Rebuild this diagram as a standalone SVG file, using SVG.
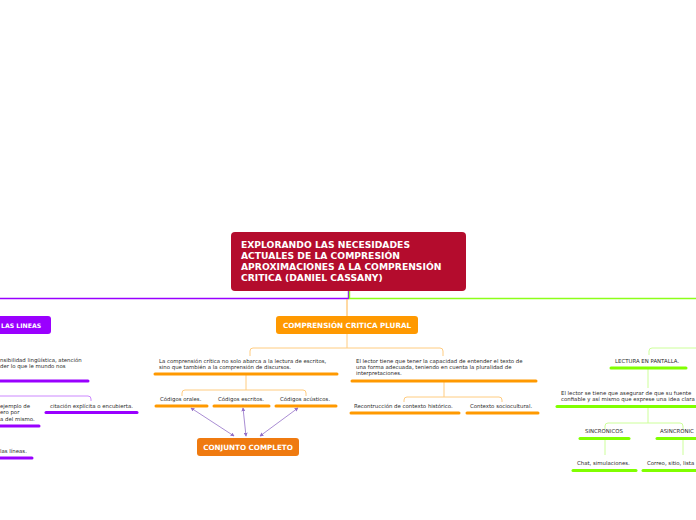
<svg xmlns="http://www.w3.org/2000/svg" width="696" height="520" viewBox="0 0 696 520">
<defs>
<style>
.t{font-family:"DejaVu Sans",Verdana,sans-serif;font-size:5.4px;fill:#2a2a2a}
.h{font-family:"DejaVu Sans",Verdana,sans-serif;font-weight:bold;fill:#fff}
.ul{stroke-width:3;stroke-linecap:round;fill:none}
.uo{stroke:#ff9900}.up{stroke:#9900ff}.ug{stroke:#80ff00}
.lo{stroke:#ffcc80;stroke-width:1;fill:none}
.lp{stroke:#cc88ff;stroke-width:1;fill:none}
.lg{stroke:#ccff99;stroke-width:1;fill:none}
.ar{stroke:#9370c8;stroke-width:0.8;fill:none;marker-start:url(#a);marker-end:url(#a)}
</style>
<marker id="a" viewBox="0 0 6 6" refX="5" refY="3" markerWidth="5" markerHeight="5" orient="auto-start-reverse"><path d="M0,0 L6,3 L0,6 Z" fill="#9370c8"/></marker>
</defs>
<g id="connectors">
<path d="M0,298.5 H348.5 V291" stroke="#9900ff" stroke-width="1.4" fill="none"/>
<path d="M349.5,291 V298.5 H696" stroke="#8cff1a" stroke-width="1.4" fill="none"/>
<path d="M347,299 V316" stroke="#ffb347" stroke-width="1" fill="none"/>
<path d="M347,334 V348 M250,356 V351 Q250,348 253,348 H440 Q443,348 443,351 V356" class="lo"/>
<path d="M246,374 V390 M182,396 V393 Q182,390 185,390 H303 Q306,390 306,393 V396" class="lo"/>
<path d="M444,381 V397 M404,402 V400 Q404,397 407,397 H499 Q502,397 502,400 V402" class="lo"/>
<path d="M0,396 H88 Q91,396 91,399 V401" class="lp"/>
<path d="M696,348 H652 Q649,348 649,351 V355 M648,368 V388 M648,406 V423 M605,429 V426 Q605,423 608,423 H680 Q683,423 683,426 V429 M605,439 V455 M683,439 V455" class="lg"/>
<path d="M191,408 L234,436" class="ar"/>
<path d="M243,408 L246,436" class="ar"/>
<path d="M298,408 L260,436" class="ar"/>
</g>
<g id="root">
<rect x="231" y="232" width="235" height="59" rx="4" fill="#b40c2d"/>
<text class="h" font-size="9.2" x="241" y="248">EXPLORANDO LAS NECESIDADES</text>
<text class="h" font-size="9.2" x="241" y="259">ACTUALES DE LA COMPRESIÓN</text>
<text class="h" font-size="9.2" x="241" y="270">APROXIMACIONES A LA COMPRENSIÓN</text>
<text class="h" font-size="9.2" x="241" y="281">CRITICA (DANIEL CASSANY)</text>
</g>
<g id="leer">
<rect x="-20" y="316" width="71" height="18" rx="3" fill="#9a00ff"/>
<text class="h" font-size="6.2" x="1" y="328">LAS LINEAS</text>
</g>
<g id="l1">
<text class="t" x="0" y="362">nsibilidad lingüística, atención</text>
<text class="t" x="0" y="368">der lo que le mundo nos</text>
<path d="M-5,381 H88" class="ul up"/>
</g>
<g id="l2">
<text class="t" x="0" y="407.5">ejemplo de</text>
<text class="t" x="0" y="414">ero por</text>
<text class="t" x="0" y="420.5">a del mismo.</text>
<path d="M-5,426 H39" class="ul up"/>
</g>
<g id="l3">
<text class="t" x="50" y="407.5">citación explícita o encubierta.</text>
<path d="M46,412.5 H137" class="ul up"/>
</g>
<g id="l4">
<text class="t" x="0" y="453">las líneas.</text>
<path d="M-5,458 H32" class="ul up"/>
</g>
<g id="ccp">
<rect x="276" y="316" width="142" height="18" rx="3" fill="#ff9900"/>
<text class="h" font-size="7.2" x="347" y="328" text-anchor="middle">COMPRENSIÓN CRITICA PLURAL</text>
</g>
<g id="c1">
<text class="t" x="159" y="362.5">La comprensión crítica no solo abarca a la lectura de escritos,</text>
<text class="t" x="159" y="368.5">sino que también a la comprensión de discursos.</text>
<path d="M155,374 H337" class="ul uo"/>
</g>
<g id="orales">
<text class="t" x="160" y="401">Códigos orales.</text>
<path d="M156,406 H207" class="ul uo"/>
</g>
<g id="escritos">
<text class="t" x="218" y="401">Códigos escritos.</text>
<path d="M214,406 H269" class="ul uo"/>
</g>
<g id="acusticos">
<text class="t" x="280" y="401">Códigos acústicos.</text>
<path d="M276,406 H336" class="ul uo"/>
</g>
<g id="conjunto">
<rect x="197" y="438" width="102" height="18" rx="3" fill="#ef7a10"/>
<text class="h" font-size="7.2" x="248" y="450" text-anchor="middle">CONJUNTO COMPLETO</text>
</g>
<g id="c2">
<text class="t" x="356" y="362.5">El lector tiene que tener la capacidad de entender el texto de</text>
<text class="t" x="356" y="368.5">una forma adecuada, teniendo en cuenta la pluralidad de</text>
<text class="t" x="356" y="375">interpretaciones.</text>
<path d="M352,381 H536" class="ul uo"/>
</g>
<g id="historico">
<text class="t" x="354" y="407.5">Recontrucción de contexto histórico.</text>
<path d="M351,413 H459" class="ul uo"/>
</g>
<g id="socio">
<text class="t" x="470" y="407.5">Contexto sociocultural.</text>
<path d="M467,413 H538" class="ul uo"/>
</g>
<g id="pantalla">
<text class="t" x="615" y="362.5">LECTURA EN PANTALLA.</text>
<path d="M611,368 H686" class="ul ug"/>
</g>
<g id="fuente">
<text class="t" x="561" y="395">El lector se tiene que asegurar de que su fuente</text>
<text class="t" x="561" y="401">confiable y así mismo que exprese una idea clara</text>
<path d="M557,406.5 H700" class="ul ug"/>
</g>
<g id="sincronicos">
<text class="t" x="585" y="433">SINCRONICOS</text>
<path d="M580,438.5 H629" class="ul ug"/>
</g>
<g id="asincronicos">
<text class="t" x="660" y="433">ASINCRONIC</text>
<path d="M657,438.5 H700" class="ul ug"/>
</g>
<g id="chat">
<text class="t" x="577" y="465">Chat, simulaciones.</text>
<path d="M573,470.5 H636" class="ul ug"/>
</g>
<g id="correo">
<text class="t" x="647" y="465">Correo, sitio, lista</text>
<path d="M643,470.5 H700" class="ul ug"/>
</g>
</svg>
